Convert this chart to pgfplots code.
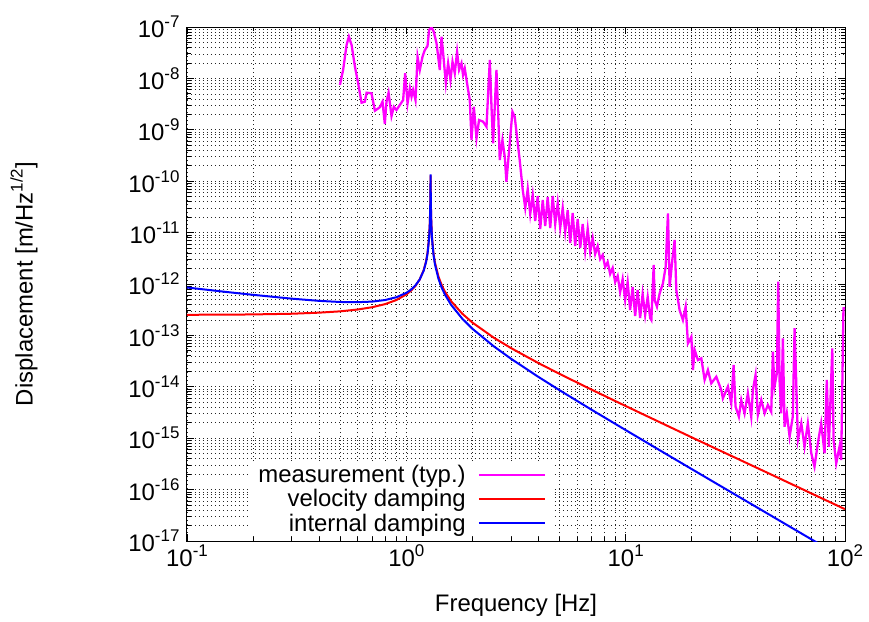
\documentclass[border=0pt]{standalone}
\usepackage{fontspec}
\setmainfont{Liberation Sans}
\usepackage{pgfplots}
\pgfplotsset{compat=1.18}
\definecolor{gpmag}{RGB}{255,0,255}
\definecolor{gpred}{RGB}{255,0,0}
\definecolor{gpblue}{RGB}{0,0,255}
\newcommand{\sups}[1]{\raisebox{10bp}{\fontsize{17}{17}\selectfont #1}}
\newcommand{\bigf}{\fontsize{24}{28}\selectfont}
\begin{document}
\begin{tikzpicture}
\useasboundingbox (-187bp,-81bp) rectangle (682bp,541bp);
\begin{axis}[
 at={(0,0)}, anchor=south west,
 scale only axis, width=658bp, height=514bp,
 xmode=log, ymode=log,
 xmin=0.1, xmax=100, ymin=1e-17, ymax=1e-7,
 xtick={0.1,1,10,100},
 xticklabels={10\sups{-1},10\sups{0},10\sups{1},10\sups{2}},
 ytick={1e-17,1e-16,1e-15,1e-14,1e-13,1e-12,1e-11,1e-10,1e-9,1e-8,1e-7},
 yticklabels={10\sups{-17},10\sups{-16},10\sups{-15},10\sups{-14},10\sups{-13},10\sups{-12},10\sups{-11},10\sups{-10},10\sups{-9},10\sups{-8},10\sups{-7}},
 minor xtick={0.2,0.3,0.4,0.5,0.6,0.7,0.8,0.9,2,3,4,5,6,7,8,9,20,30,40,50,60,70,80,90},
 minor ytick={2e-17,3e-17,4e-17,5e-17,6e-17,7e-17,8e-17,9e-17,
 2e-16,3e-16,4e-16,5e-16,6e-16,7e-16,8e-16,9e-16,
 2e-15,3e-15,4e-15,5e-15,6e-15,7e-15,8e-15,9e-15,
 2e-14,3e-14,4e-14,5e-14,6e-14,7e-14,8e-14,9e-14,
 2e-13,3e-13,4e-13,5e-13,6e-13,7e-13,8e-13,9e-13,
 2e-12,3e-12,4e-12,5e-12,6e-12,7e-12,8e-12,9e-12,
 2e-11,3e-11,4e-11,5e-11,6e-11,7e-11,8e-11,9e-11,
 2e-10,3e-10,4e-10,5e-10,6e-10,7e-10,8e-10,9e-10,
 2e-9,3e-9,4e-9,5e-9,6e-9,7e-9,8e-9,9e-9,
 2e-8,3e-8,4e-8,5e-8,6e-8,7e-8,8e-8,9e-8},
 grid=both,
 major grid style={black!85, line width=0.7bp, dash pattern=on 1bp off 3bp},
 minor grid style={black!85, line width=0.7bp, dash pattern=on 1bp off 3bp},
 tick align=inside,
 major tick length=7bp, minor tick length=4bp,
 every tick/.style={black, line width=0.8bp},
 axis line style={line width=1bp},
 tick label style={font=\bigf},
 yticklabel style={xshift=-4bp},
 every axis x label/.style={at={(rel axis cs:0.5,-0.1255)}, anchor=center, font=\bigf},
 every axis y label/.style={at={(rel axis cs:-0.2477,0.5)}, rotate=90, anchor=center, font=\bigf},
 xlabel={Frequency [Hz]},
 ylabel={Displacement [m/Hz\sups{1/2}]},
 legend style={at={(rel axis cs:0.555,0.010)}, anchor=south east, draw=none, fill=white, font=\bigf, row sep=1.5bp, column sep=10bp, inner xsep=6bp, inner ysep=1bp},
 legend cell align=right,
 legend plot pos=right,
 every axis plot/.append style={line width=2bp, legend image code/.code={\draw[##1] (0bp,0bp) -- (66bp,0bp);}},
]
\addplot[gpmag, line width=2.3bp] coordinates {
(0.498,7.45e-9)(0.515,1.46e-8)(0.534,4.47e-8)(0.547,6.48e-8)(0.563,4.47e-8)(0.583,1.69e-8)
(0.603,8.03e-9)(0.625,3.37e-9)(0.647,3.52e-9)(0.659,5.27e-9)(0.694,5.13e-9)(0.719,2.35e-9)
(0.757,2.74e-9)(0.779,3.52e-9)(0.798,1.30e-9)(0.812,3.52e-9)(0.830,5.27e-9)(0.856,1.86e-9)
(0.877,2.81e-9)(0.902,2.43e-9)(0.941,3.18e-9)(0.967,3.80e-9)(0.988,1.26e-8)(1.013,3.28e-9)
(1.038,6.42e-9)(1.056,4.41e-9)(1.074,5.95e-9)(1.101,3.80e-9)(1.125,2.64e-8)(1.152,1.46e-8)
(1.185,2.64e-8)(1.214,3.57e-8)(1.249,4.27e-8)(1.270,8.74e-8)(1.302,9.9e-8)(1.334,8.10e-8)
(1.373,4.82e-8)(1.421,1.46e-8)(1.447,6.48e-8)(1.472,3.08e-8)(1.514,8.03e-9)(1.551,1.97e-8)
(1.590,9.31e-9)(1.624,2.11e-8)(1.663,1.26e-8)(1.704,3.31e-8)(1.740,1.46e-8)(1.784,1.97e-8)
(1.814,1.17e-8)(1.847,1.57e-8)(1.892,8.03e-9)(1.947,3.80e-9)(1.982,6.33e-10)(2.031,2.81e-9)
(2.089,6.83e-10)(2.146,1.55e-9)(2.239,1.44e-9)(2.320,1.15e-9)(2.402,2.28e-8)(2.445,2.81e-9)
(2.486,5.46e-10)(2.576,1.46e-8)(2.620,2.43e-9)(2.667,2.58e-10)(2.743,6.33e-10)(2.810,3.00e-10)
(2.860,9.78e-11)(2.961,5.46e-10)(3.046,2.25e-9)(3.120,1.80e-9)(3.196,7.34e-10)(3.288,2.58e-10)
(3.395,6.74e-11)(3.485,3.01e-11)(3.577,7.05e-11)(3.672,2.30e-11)(3.770,5.39e-11)(3.870,1.68e-11)
(3.973,5.15e-11)(4.078,1.18e-11)(4.187,4.31e-11)(4.298,1.34e-11)(4.411,4.93e-11)(4.529,1.23e-11)
(4.649,5.15e-11)(4.773,1.47e-11)(4.899,3.77e-11)(5.030,1.23e-11)(5.164,3.01e-11)(5.301,1.03e-11)
(5.442,2.75e-11)(5.586,6.28e-12)(5.734,2.41e-11)(5.888,5.49e-12)(6.044,1.84e-11)(6.205,5.02e-12)
(6.370,1.47e-11)(6.539,4.39e-12)(6.713,1.18e-11)(6.891,4.20e-12)(7.075,7.85e-12)(7.261,3.84e-12)
(7.454,5.49e-12)(7.653,3.06e-12)(7.856,3.67e-12)(8.065,2.14e-12)(8.279,2.68e-12)(8.499,1.57e-12)
(8.725,2.05e-12)(8.957,1.09e-12)(9.196,1.43e-12)(9.438,6.99e-13)(9.690,1.25e-12)(9.947,4.89e-13)
(10.21,1.09e-12)(10.48,3.12e-13)(10.76,8.74e-13)(11.05,2.38e-13)(11.34,7.64e-13)(11.64,2.18e-13)
(11.95,6.39e-13)(12.27,2.49e-13)(12.60,5.59e-13)(12.93,2.18e-13)
(13.10,1.99e-13)(13.42,2.34e-12)(13.56,4.89e-13)
(13.89,3.62e-13)(14.29,6.59e-13)(14.79,1.03e-12)(15.22,2.17e-12)(15.59,2.37e-11)(15.87,8.86e-13)
(16.32,2.93e-12)(16.72,7.18e-12)(17.02,7.64e-13)(17.62,3.12e-13)(18.24,1.99e-13)(18.77,3.62e-13)
(19.23,7.02e-14)(19.93,9.43e-14)(20.26,2.12e-14)(20.63,5.20e-14)(21.35,3.32e-14)(22.13,3.58e-14)
(22.91,1.36e-14)(23.71,2.12e-14)(24.57,1.17e-14)(25.89,1.57e-14)(27.29,8.66e-15)(27.75,5.97e-15)
(29.25,1.01e-14)(30.30,4.78e-15)(31.05,2.66e-14)(31.70,4.10e-15)(32.82,2.62e-15)(33.65,5.54e-15)
(34.84,3.05e-15)(36.07,7.47e-15)(37.38,2.62e-15)(38.02,8.66e-15)(39.11,1.70e-14)(40.06,2.83e-15)
(41.52,5.54e-15)(43.0,3.05e-15)(44.5,4.43e-15)(46.1,3.28e-15)(46.9,4.82e-14)(47.7,1.01e-14)
(48.9,1.83e-14)(49.6,1.11e-12)(50.3,1.36e-14)(51.2,3.05e-15)(52.1,8.78e-14)(53.0,1.67e-15)
(54.3,3.05e-15)(55.9,1.07e-15)(57.8,2.62e-15)(58.9,1.38e-13)(59.9,1.36e-14)(61.0,9.23e-16)
(63.2,1.95e-15)(65.4,6.83e-16)(67.7,1.95e-15)(70.2,5.08e-16)(72.6,2.79e-16)(75.2,7.96e-16)
(77.9,1.95e-15)(80.7,5.08e-16)(82.6,1.36e-14)(84.4,6.83e-16)(87.5,5.61e-14)(88.7,9.23e-16)
(91.2,3.25e-16)(94.4,6.83e-16)(96.1,3.77e-16)(98.4,3.37e-13)(100,3.4e-13)
};
\addlegendentry{measurement (typ.)}
\addplot[gpred] coordinates {
(0.1,2.52e-13)(0.15,2.53e-13)(0.2,2.56e-13)(0.3,2.64e-13)(0.4,2.77e-13)(0.5,2.94e-13)
(0.6,3.19e-13)(0.7,3.54e-13)(0.8,4.06e-13)(0.9,4.87e-13)(1.0,6.27e-13)(1.05,7.41e-13)
(1.1,9.16e-13)(1.15,1.22e-12)(1.2,1.86e-12)(1.23,2.75e-12)(1.25,4.10e-12)(1.27,8.13e-12)
(1.28,1.61e-11)(1.285,3.16e-11)(1.2875,5.86e-11)(1.29,1.30e-10)(1.2925,5.70e-11)(1.295,3.10e-11)
(1.30,1.59e-11)(1.31,7.98e-12)(1.33,3.97e-12)(1.35,2.63e-12)(1.4,1.41e-12)(1.45,9.49e-13)
(1.5,7.10e-13)(1.6,4.64e-13)(1.8,2.64e-13)(2,1.78e-13)(2.5,9.07e-14)(3,5.67e-14)(4,2.90e-14)
(5,1.78e-14)(7,8.79e-15)(10,4.23e-15)(15,1.86e-15)(20,1.04e-15)(30,4.63e-16)(50,1.67e-16)
(70,8.49e-17)(100,4.16e-17)
};
\addlegendentry{velocity damping}
\addplot[gpblue] coordinates {
(0.1,8.55e-13)(0.15,7.03e-13)(0.2,6.16e-13)(0.3,5.19e-13)(0.4,4.70e-13)(0.5,4.47e-13)
(0.6,4.43e-13)(0.7,4.55e-13)(0.8,4.88e-13)(0.9,5.52e-13)(1.0,6.73e-13)(1.05,7.77e-13)
(1.1,9.39e-13)(1.15,1.22e-12)(1.2,1.82e-12)(1.23,2.67e-12)(1.25,3.94e-12)(1.27,7.75e-12)
(1.28,1.53e-11)(1.285,3.01e-11)(1.2875,5.65e-11)(1.29,1.35e-10)(1.2925,5.48e-11)(1.295,2.94e-11)
(1.30,1.50e-11)(1.31,7.48e-12)(1.33,3.70e-12)(1.35,2.43e-12)(1.4,1.28e-12)(1.45,8.47e-13)
(1.5,6.23e-13)(1.6,3.94e-13)(1.8,2.11e-13)(2,1.35e-13)(2.5,6.17e-14)(3,3.52e-14)(4,1.56e-14)
(5,8.57e-15)(7,3.57e-15)(10,1.44e-15)(15,5.17e-16)(20,2.51e-16)(30,9.09e-17)(50,2.53e-17)
(70,1.09e-17)(100,4.47e-18)
};
\addlegendentry{internal damping}
\end{axis}
\end{tikzpicture}
\end{document}
